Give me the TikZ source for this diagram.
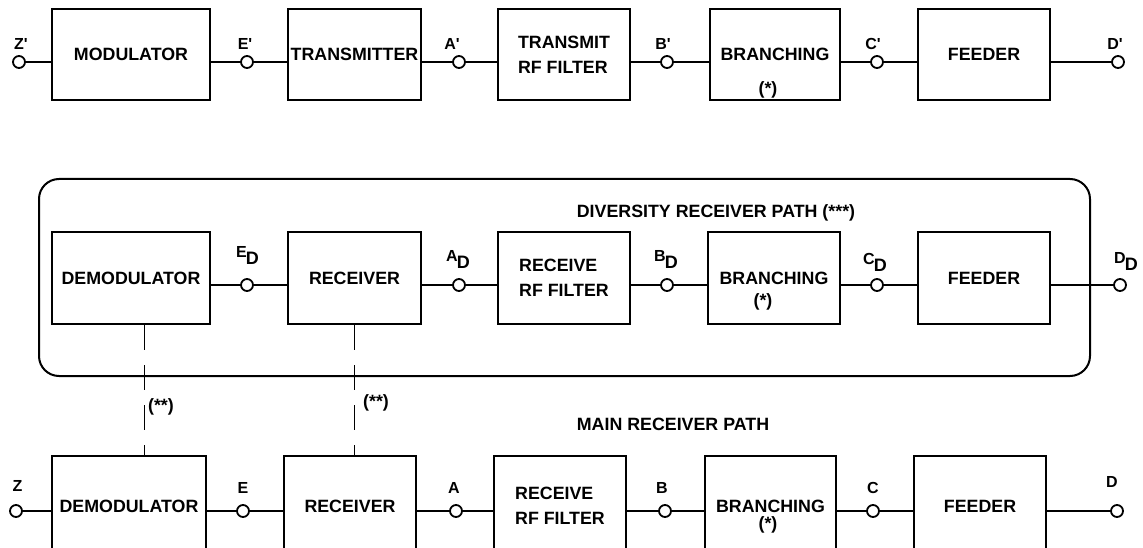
\documentclass[tikz,border=0pt]{standalone}
\usepackage{fontspec}
\setmainfont{Liberation Sans}
\usetikzlibrary{positioning}
\newcommand{\dlab}[1]{#1\kern-1pt\raisebox{-7pt}{\fontsize{18}{18}\selectfont D}}
\newcommand{\pr}{\textquotesingle}

\begin{document}
\begin{tikzpicture}[x=1pt,y=-1pt,font=\bfseries\fontsize{17.8}{25}\selectfont,
  blk/.style={draw,line width=2pt,inner sep=0pt,minimum height=92pt,align=left},
  term/.style={draw,circle,fill=white,line width=1.8pt,inner sep=0pt,minimum size=12pt},
  pin/.style={font=\bfseries\fontsize{16}{16}\selectfont,inner sep=0pt,anchor=base},
  wire/.style={line width=2pt},
  link/.style={line width=0.9pt,dash pattern=on 25pt off 15pt}]
\clip (0,0) rectangle (1143,548);
% transmit path
\node[blk,minimum width=158pt,minimum height=91pt] (tMod) at (131,54.5) {MODULATOR};
\node[blk,minimum width=133pt,minimum height=91pt] (tTx) at (354.5,54.5) {TRANSMITTER};
\node[blk,minimum width=132pt,minimum height=91pt] (tFilt) at (564,54.5) {TRANSMIT\\RF FILTER};
\node[blk,minimum width=130pt,minimum height=91pt] (tBr) at (775,54.5) {BRANCHING};
\node[blk,minimum width=132pt,minimum height=91pt] (tFeed) at (984,54.5) {FEEDER};
\node (tStar) at (768,90) {(*)};
\node[term] (tZ) at (19,62) {};
\node[term] (tE) at (247,62) {};
\node[term] (tA) at (459,62) {};
\node[term] (tB) at (667,62) {};
\node[term] (tC) at (877,62) {};
\node[term] (tD) at (1118,62) {};
\draw[wire] (tZ) -- (tZ -| tMod.west);
\foreach \a/\t/\b in {tMod/tE/tTx,tTx/tA/tFilt,tFilt/tB/tBr,tBr/tC/tFeed}{\draw[wire] (\a.east |- \t) -- (\t) -- (\t -| \b.west);}
\draw[wire] (tFeed.east |- tD) -- (tD);
\node[pin] (lZt) at (21,50) {Z\pr};
\node[pin] (lEt) at (245,50) {E\pr};
\node[pin] (lAt) at (452,50) {A\pr};
\node[pin] (lBt) at (663,50) {B\pr};
\node[pin] (lCt) at (873,50) {C\pr};
\node[pin] (lDt) at (1115,50) {D\pr};
% diversity receiver path
\draw[line width=2pt,rounded corners=20pt] (39,179) rectangle (1090,376);
\node (divT) at (716,213) {DIVERSITY RECEIVER PATH (***)};
\node[blk,minimum width=158pt] (dDem) at (131,278) {DEMODULATOR};
\node[blk,minimum width=133pt] (dRx) at (354.5,278) {RECEIVER};
\node[blk,minimum width=132pt] (dFilt) at (564,278) {RECEIVE\\RF FILTER};
\node[blk,minimum width=132pt] (dBr) at (774,278) {BRANCHING};
\node[blk,minimum width=132pt] (dFeed) at (984,278) {FEEDER};
\node (dStar) at (763,302) {(*)};
\node[term] (dE) at (247,285) {};
\node[term] (dA) at (459,285) {};
\node[term] (dB) at (667,285) {};
\node[term] (dC) at (877,285) {};
\node[term] (dD) at (1120,285) {};
\foreach \a/\t/\b in {dDem/dE/dRx,dRx/dA/dFilt,dFilt/dB/dBr,dBr/dC/dFeed}{\draw[wire] (\a.east |- \t) -- (\t) -- (\t -| \b.west);}
\draw[wire] (dFeed.east |- dD) -- (dD);
\node[pin] (lEd) at (247.5,258) {\dlab{E}};
\node[pin] (lAd) at (458,261) {\dlab{A}};
\node[pin] (lBd) at (666,261) {\dlab{B}};
\node[pin] (lCd) at (875,264) {\dlab{C}};
\node[pin] (lDd) at (1126,263) {\dlab{D}};
% main receiver path
\node (mainT) at (673,424) {MAIN RECEIVER PATH};
\node[blk,minimum width=154pt,minimum height=100pt] (mDem) at (129,506) {DEMODULATOR};
\node[blk,minimum width=132pt,minimum height=100pt] (mRx) at (350,506) {RECEIVER};
\node[blk,minimum width=132pt,minimum height=100pt] (mFilt) at (560,506) {RECEIVE\\RF FILTER};
\node[blk,minimum width=131pt,minimum height=100pt] (mBr) at (770.5,506) {BRANCHING};
\node[blk,minimum width=132pt,minimum height=100pt] (mFeed) at (980,506) {FEEDER};
\node (mStar) at (768,525) {(*)};
\node[term] (mZ) at (16,511) {};
\node[term] (mE) at (243,511) {};
\node[term] (mA) at (456,511) {};
\node[term] (mB) at (665,511) {};
\node[term] (mC) at (873,511) {};
\node[term] (mD) at (1117,511) {};
\draw[wire] (mZ) -- (mZ -| mDem.west);
\foreach \a/\t/\b in {mDem/mE/mRx,mRx/mA/mFilt,mFilt/mB/mBr,mBr/mC/mFeed}{\draw[wire] (\a.east |- \t) -- (\t) -- (\t -| \b.west);}
\draw[wire] (mFeed.east |- mD) -- (mD);
\node[pin] (lZm) at (17.5,491) {Z};
\node[pin] (lEm) at (243,493) {E};
\node[pin] (lAm) at (454,493) {A};
\node[pin] (lBm) at (662,493) {B};
\node[pin] (lCm) at (873,493) {C};
\node[pin] (lDm) at (1112,487) {D};
% couplings
\draw[link] ([xshift=13pt]dDem.south) coordinate (k1) -- (k1 |- mDem.north);
\draw[link] (dRx.south) -- (dRx.south |- mRx.north);
\node (s1) at (161,407) {(**)};
\node (s2) at (376,403) {(**)};
\end{tikzpicture}
\end{document}
